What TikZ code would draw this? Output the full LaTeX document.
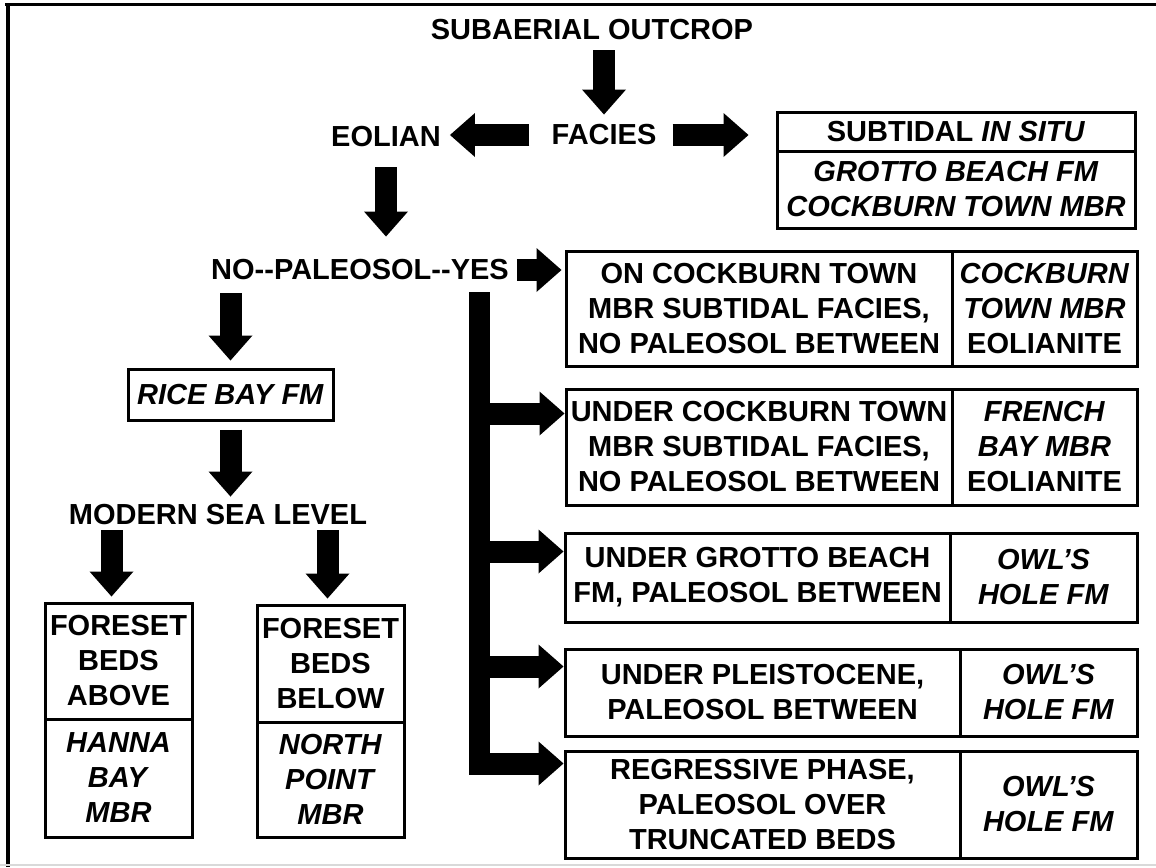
\documentclass[tikz,border=0pt]{standalone}
\usepackage{fontspec}
\setmainfont{Liberation Sans}
\usetikzlibrary{arrows.meta,calc}
\begin{document}
\begin{tikzpicture}[x=1pt,y=-1pt,
  every node/.style={font=\fontsize{29}{35}\selectfont\bfseries, inner sep=0pt, align=center},
  cell/.style 2 args={draw, line width=3pt, minimum width=#1, minimum height=#2},
  blk/.style={line width=22pt, -{Triangle[length=25pt,width=44pt,line width=0pt]}},
  bar/.style={line width=21pt}]
\useasboundingbox (0,0) rectangle (1156,867);
% frame
\draw[line width=3pt] (5,5) -- (1156,5);
\draw[line width=4pt] (7.5,4) -- (7.5,867);
\draw[black!15, line width=1.5pt] (0,865) -- (1156,865);

% top part
\node (title) at (592,30) {SUBAERIAL OUTCROP};
\node (facies) at (604,135) {FACIES};
\node (eolian) at (386,137) {EOLIAN};
\node[cell={358pt}{39pt}] (st) at (956,131.5) {SUBTIDAL \textit{IN SITU}};
\node[cell={358pt}{77pt}] (gb) at (956,189.5) {\textit{GROTTO BEACH FM}\\\textit{COCKBURN TOWN MBR}};
\node (nps) at (360,270) {NO{-}{-}PALEOSOL{-}{-}YES};

% right boxes
\node[cell={386pt}{115pt}] (b1l) at (759,308.5) {ON COCKBURN TOWN\\MBR SUBTIDAL FACIES,\\NO PALEOSOL BETWEEN};
\node[cell={185pt}{115pt}] (b1r) at (1044.5,308.5) {\textit{COCKBURN}\\\textit{TOWN MBR}\\EOLIANITE};
\node[cell={386pt}{116pt}] (b2l) at (759,447) {UNDER COCKBURN TOWN\\MBR SUBTIDAL FACIES,\\NO PALEOSOL BETWEEN};
\node[cell={185pt}{116pt}] (b2r) at (1044.5,447) {\textit{FRENCH}\\\textit{BAY MBR}\\EOLIANITE};
\node[cell={385pt}{89pt}] (b3l) at (757.5,577.5) {UNDER GROTTO BEACH\\FM, PALEOSOL BETWEEN};
\node[cell={187pt}{89pt}] (b3r) at (1043.5,577.5) {\textit{OWL’S}\\\textit{HOLE FM}};
\node[cell={395pt}{87pt}] (b4l) at (762.5,692.5) {UNDER PLEISTOCENE,\\PALEOSOL BETWEEN};
\node[cell={177pt}{87pt}] (b4r) at (1048.5,692.5) {\textit{OWL’S}\\\textit{HOLE FM}};
\node[cell={395pt}{107pt}] (b5l) at (762.5,804.5) {REGRESSIVE PHASE,\\PALEOSOL OVER\\TRUNCATED BEDS};
\node[cell={177pt}{107pt}] (b5r) at (1048.5,804.5) {\textit{OWL’S}\\\textit{HOLE FM}};

% left part
\node[cell={205pt}{51pt}] (rice) at (230.5,394.5) {\textit{RICE BAY FM}};
\node (msl) at (218,515) {MODERN SEA LEVEL};
\node[cell={147pt}{116pt}] (fa) at (118.5,661) {FORESET\\BEDS\\ABOVE};
\node[cell={147pt}{118pt}] (ha) at (118.5,778) {\textit{HANNA}\\\textit{BAY}\\\textit{MBR}};
\node[cell={147pt}{117pt}] (fb) at (330.5,663.5) {FORESET\\BEDS\\BELOW};
\node[cell={147pt}{115pt}] (np) at (330.5,779.5) {\textit{NORTH}\\\textit{POINT}\\\textit{MBR}};

% arrows
\draw[blk, shorten <=10pt, shorten >=10pt] (title.south -| facies.north) -- (facies.north);
\draw[blk, shorten <=16pt, shorten >=27pt] (facies.east) -- (facies.east -| st.west);
\draw[blk, shorten <=22pt, shorten >=9pt] (facies.west) -- (facies.west -| eolian.east);
\draw[blk, shorten <=20pt, shorten >=23pt] (eolian.south) -- (eolian.south |- nps.north);
\draw[blk, shorten <=8pt, shorten >=3pt] (nps.east) -- (nps.east -| b1l.west);
\draw[blk, shorten <=13pt, shorten >=7pt] (nps.south -| rice.north) -- (rice.north);
\draw[blk, shorten <=8pt, shorten >=8pt] (rice.south) -- (rice.south |- msl.north);
\draw[blk, shorten <=5pt, shorten >=5pt] ([xshift=-7pt]fa.north |- msl.south) -- ([xshift=-7pt]fa.north);
\draw[blk, shorten <=5pt, shorten >=5pt] ([xshift=-3pt]fb.north |- msl.south) -- ([xshift=-3pt]fb.north);

% branching bar
\coordinate (bartop) at (479,292);
\path ($(b2l.north west)+(0,26)$) coordinate (t2)
      ($(b3l.north west)+(0,20)$) coordinate (t3)
      ($(b4l.north west)+(0,19)$) coordinate (t4)
      ($(b5l.north west)+(0,14)$) coordinate (t5);
\draw[bar] (bartop) -- ($(bartop |- t5)+(0,11)$);
\draw[blk] (t2 -| bartop) -- (t2);
\draw[blk] (t3 -| bartop) -- (t3);
\draw[blk] (t4 -| bartop) -- (t4);
\draw[blk] (t5 -| bartop) -- (t5);
\end{tikzpicture}
\end{document}
